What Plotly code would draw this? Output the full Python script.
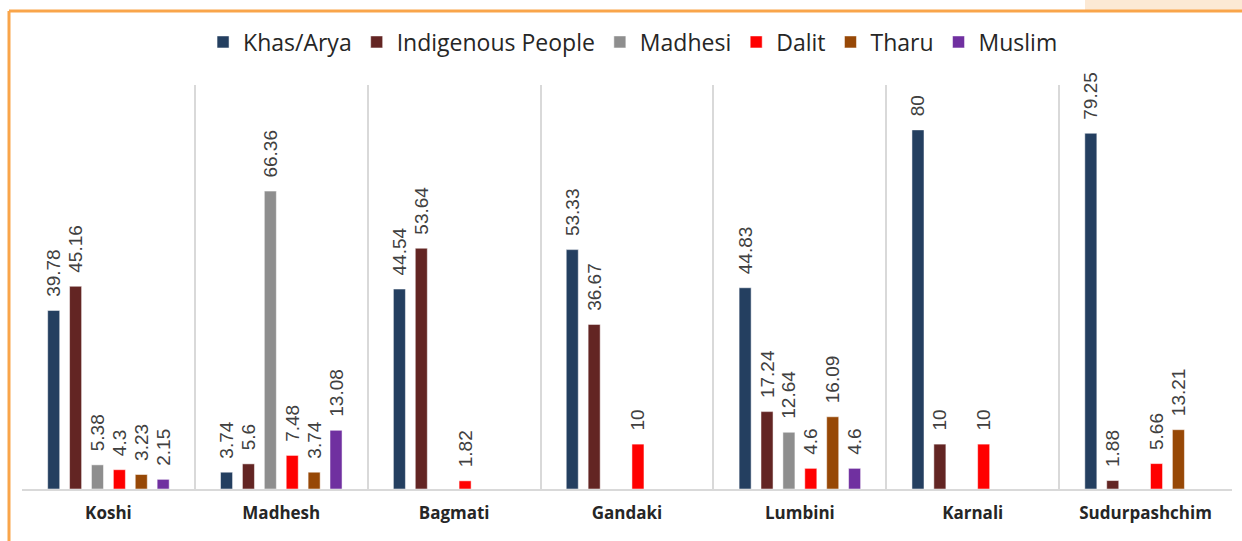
import plotly.graph_objects as go

provinces = ['Koshi', 'Madhesh', 'Bagmati', 'Gandaki', 'Lumbini', 'Karnali', 'Sudurpashchim']

khas_arya = [39.78, 3.74, 44.54, 53.33, 44.83, 80, 79.25]
indigenous = [45.16, 5.6, 53.64, 36.67, 17.24, 10, 1.88]
madhesi = [5.38, 66.36, None, None, 12.64, None, None]
dalit = [4.3, 7.48, 1.82, 10, 4.6, 10, 5.66]
tharu = [3.23, 3.74, None, None, 16.09, None, 13.21]
muslim = [2.15, 13.08, None, None, 4.6, None, None]

series = [
    ('Khas/Arya', khas_arya, '#243F60'),
    ('Indigenous People', indigenous, '#632523'),
    ('Madhesi', madhesi, '#8E8E8E'),
    ('Dalit', dalit, '#FF0000'),
    ('Tharu', tharu, '#974806'),
    ('Muslim', muslim, '#7030A0'),
]

fig = go.Figure()
for name, vals, col in series:
    fig.add_trace(go.Bar(
        x=provinces, y=vals, name=name,
        marker=dict(color=col, line=dict(color='rgba(255,255,255,0.5)', width=1)),
        # leading nbsp pads the rotated label away from the bar top
        text=[('' if v is None else '\u00a0\u00a0' + f'{v:g}') for v in vals],
        textposition='outside', textangle=-90,
        textfont=dict(family='Liberation Sans, Arial', size=19, color='#404040'),
        cliponaxis=False,
    ))

# plot area: x 22..1232, y 85..489
W, H = 1242, 541
L, R, T, B = 22, 10, 85, 52
pw, ph = W - L - R, H - T - B


def px_x(x):
    return (x - L) / pw


def px_y(y):
    return (H - B - y) / ph


fig.update_layout(
    width=W, height=H,
    margin=dict(l=L, r=R, t=T, b=B),
    paper_bgcolor='white', plot_bgcolor='white',
    barmode='group', bargap=0.24, bargroupgap=0.45,
    uniformtext=dict(minsize=19, mode='show'),
    font=dict(family='Open Sans, Noto Sans', color='#262626'),
    legend=dict(orientation='h', x=0.505, xanchor='center', y=px_y(42), yanchor='middle',
                font=dict(size=23, color='#262626'), itemwidth=30, traceorder='normal'),
    xaxis=dict(tickson='boundaries', showgrid=True, gridcolor='#D9D9D9', gridwidth=1.5,
               showline=True, linecolor='#D9D9D9', linewidth=2, ticks='', ticklabelstandoff=8,
               tickfont=dict(family='Open Sans, Noto Sans', size=17, color='#262626', weight='bold')),
    yaxis=dict(range=[0, 90], visible=False, showgrid=False),
    shapes=[
        # peach patch top right
        dict(type='rect', xref='paper', yref='paper', x0=px_x(1085), x1=px_x(1245),
             y0=px_y(11), y1=px_y(-2), fillcolor='#FCE9D4', line=dict(width=0), layer='below'),
        # orange frame
        dict(type='line', xref='paper', yref='paper', x0=px_x(9), x1=px_x(1245),
             y0=px_y(11), y1=px_y(11), line=dict(color='#F9A54A', width=3)),
        dict(type='line', xref='paper', yref='paper', x0=px_x(9), x1=px_x(9),
             y0=px_y(11), y1=px_y(545), line=dict(color='#F9A54A', width=3)),
    ],
)

fig.write_html('out.html', config={'displayModeBar': False},
               post_script="document.body.style.margin='0px';")
